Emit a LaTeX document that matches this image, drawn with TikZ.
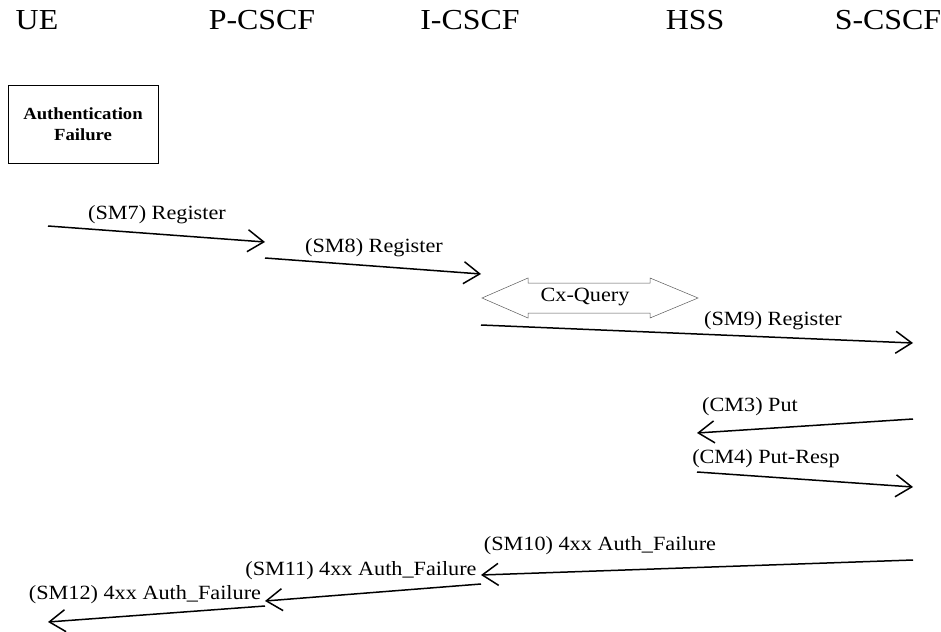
\documentclass[tikz,border=0pt]{standalone}
\usepackage{fontspec}
\setmainfont{Liberation Serif}[FakeStretch=1.1]
\usetikzlibrary{arrows.meta}
\begin{document}
\begin{tikzpicture}[x=1pt,y=-1pt,
  head/.style={font=\fontsize{29}{32}\selectfont, inner sep=0pt},
  lbl/.style={font=\fontsize{20.2}{24}\selectfont, inner sep=0pt},
  msg/.style={line width=1.5pt, -{Straight Barb[length=16pt,width=22pt,line width=1.5pt]}},
]
\useasboundingbox (0,0) rectangle (941,631);
% headers
\node[head] (ue) at (37,20) {UE};
\node[head] (pcscf) at (262,20) {P-CSCF};
\node[head] (icscf) at (470,20) {I-CSCF};
\node[head] (hss) at (695,20) {HSS};
\node[head] (scscf) at (888,20) {S-CSCF};
% box
\node[draw, line width=0.6pt, minimum width=150pt, minimum height=78pt, align=center,
      font=\fontsize{17}{21}\selectfont\bfseries, inner sep=0pt] (auth) at (83,124) {Authentication\\Failure};
% coordinates
\coordinate (a1) at (48,226);  \coordinate (a2) at (265,242);
\coordinate (b1) at (265,258); \coordinate (b2) at (481,274);
\coordinate (c1) at (481,325); \coordinate (c2) at (913,343);
\coordinate (d1) at (913,419); \coordinate (d2) at (697,433);
\coordinate (e1) at (697,472); \coordinate (e2) at (913,487);
\coordinate (f1) at (913,560); \coordinate (f2) at (481,575);
\coordinate (g1) at (481,584); \coordinate (g2) at (265,601);
\coordinate (h1) at (265,606); \coordinate (h2) at (48,622);
\draw[msg] (a1) -- (a2);
\draw[msg] (b1) -- (b2);
\draw[msg] (c1) -- (c2);
\draw[msg] (d1) -- (d2);
\draw[msg] (e1) -- (e2);
\draw[msg] (f1) -- (f2);
\draw[msg] (g1) -- (g2);
\draw[msg] (h1) -- (h2);
\node[lbl] (l7) at (157,215) {(SM7) Register};
\node[lbl] (l8) at (374,248) {(SM8) Register};
\node[lbl] (l9) at (773,321) {(SM9) Register};
\node[lbl] (l3) at (750,407) {(CM3) Put};
\node[lbl] (l4) at (766,459) {(CM4) Put-Resp};
\node[lbl] (l10) at (600,546) {(SM10) 4xx Auth\_Failure};
\node[lbl] (l11) at (361,571) {(SM11) 4xx Auth\_Failure};
\node[lbl] (l12) at (145,595) {(SM12) 4xx Auth\_Failure};
% Cx-Query double arrow
\draw[line width=0.5pt, gray!70!black] (482,298) -- (528,278) -- (528,283) -- (650,283) -- (650,278) -- (698,298)
  -- (650,318) -- (650,313) -- (528,313) -- (528,318) -- cycle;
\node[lbl] (cx) at (585,297) {Cx-Query};
\end{tikzpicture}
\end{document}
